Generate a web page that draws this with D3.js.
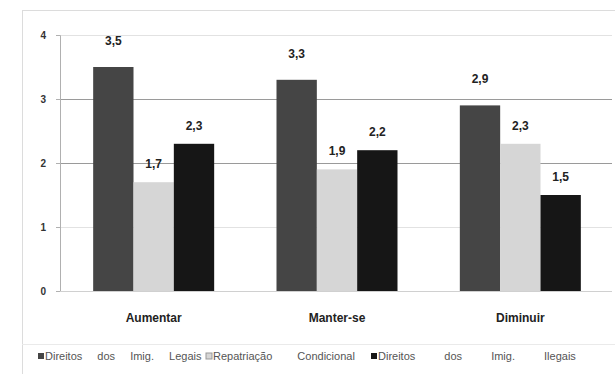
<!DOCTYPE html>
<html><head><meta charset="utf-8">
<script src="https://cdn.jsdelivr.net/npm/d3@7"></script>
<style>
body{margin:0;background:#fff;}
svg{display:block;font-family:"Liberation Sans",Arial,sans-serif;}
</style></head>
<body><svg id="c" width="615" height="374"></svg>
<script>
const categories = ["Aumentar", "Manter-se", "Diminuir"];
const seriesNames = ["Direitos dos Imig. Legais", "Repatriação Condicional", "Direitos dos Imig. Ilegais"];
const legais = [3.5, 3.3, 2.9];
const repatriacao = [1.7, 1.9, 2.3];
const ilegais = [2.3, 2.2, 1.5];
const yTicks = [0, 1, 2, 3, 4];

(function () {
const values = [legais, repatriacao, ilegais];
const colors = ["#454545", "#d6d6d6", "#161616"];
const labelOffset = [22, 14, 14];

const svg = d3.select("#c");
const pLeft = 62, pRight = 612, pTop = 35, pBottom = 291;

// frame
svg.append("rect").attr("x", 22.5).attr("y", 10.5).attr("width", 620).attr("height", 370)
  .attr("fill", "none").attr("stroke", "#dcdcdc");
svg.append("line").attr("x1", 22).attr("x2", 615).attr("y1", 344.5).attr("y2", 344.5)
  .attr("stroke", "#eaeaea");

const y = d3.scaleLinear().domain([0, 4]).range([pBottom, pTop]);
const x0 = d3.scaleBand().domain(categories).range([pLeft, pRight]).paddingInner(0.34).paddingOuter(0.17);
const x1 = d3.scaleBand().domain(d3.range(seriesNames.length)).range([0, x0.bandwidth()]);

// gridlines
svg.append("g").selectAll("line").data(yTicks.filter(d => d > 0)).join("line")
  .attr("x1", pLeft - 2).attr("x2", pRight).attr("y1", d => y(d) + 0.5).attr("y2", d => y(d) + 0.5)
  .attr("stroke", d => (d === 2 || d === 3) ? "#9a9a9a" : "#e2e2e2").attr("stroke-width", 1);

// y axis
const yAxis = d3.axisLeft(y).tickValues(yTicks).tickSize(4).tickPadding(10).tickFormat(d3.format("d"));
const ga = svg.append("g").attr("transform", `translate(${pLeft - 2},0)`).call(yAxis);
ga.select(".domain").attr("stroke", "#b0b0b0");
ga.selectAll(".tick line").attr("stroke", "#b0b0b0");
ga.selectAll(".tick text").attr("font-size", 10).attr("font-weight", "bold").attr("fill", "#333")
  .attr("font-family", "Liberation Sans, Arial, sans-serif");

// baseline
svg.append("line").attr("x1", pLeft - 2).attr("x2", pRight).attr("y1", pBottom + 0.5).attr("y2", pBottom + 0.5)
  .attr("stroke", "#d0d0d0");

// bars
const groups = svg.append("g").selectAll("g").data(categories).join("g")
  .attr("transform", d => `translate(${x0(d)},0)`);
groups.each(function(cat, ci) {
  const g = d3.select(this);
  values.forEach((vals, si) => {
    g.append("rect").attr("x", x1(si)).attr("width", x1.bandwidth())
      .attr("y", y(vals[ci])).attr("height", y(0) - y(vals[ci])).attr("fill", colors[si]);
    g.append("text").attr("x", x1(si) + x1.bandwidth() / 2).attr("y", y(vals[ci]) - labelOffset[si])
      .attr("text-anchor", "middle").attr("font-size", 12).attr("font-weight", "bold").attr("fill", "#222")
      .text(d3.format(".1f")(vals[ci]).replace(".", ","));
  });
});

// category labels
const xAxis = d3.axisBottom(x0).tickSize(0).tickPadding(22);
const gx = svg.append("g").attr("transform", `translate(0,${pBottom})`).call(xAxis);
gx.select(".domain").remove();
gx.selectAll(".tick text").attr("font-size", 12).attr("font-weight", "bold").attr("fill", "#222")
  .attr("font-family", "Liberation Sans, Arial, sans-serif");

// legend
const leg = svg.append("g").attr("transform", "translate(0,357)");
const legX = [38, 206, 371];
const legWS = [12, 22, 26];
seriesNames.forEach((n, i) => {
  leg.append("rect").attr("x", legX[i]).attr("y", -4).attr("width", 6).attr("height", 6).attr("fill", colors[i])
    .attr("stroke", i === 1 ? "#999" : "none");
  leg.append("text").attr("x", legX[i] + 7).attr("y", 3).attr("font-size", 11).attr("fill", "#555")
    .attr("word-spacing", legWS[i]).text(n);
});
})();
</script></body></html>
